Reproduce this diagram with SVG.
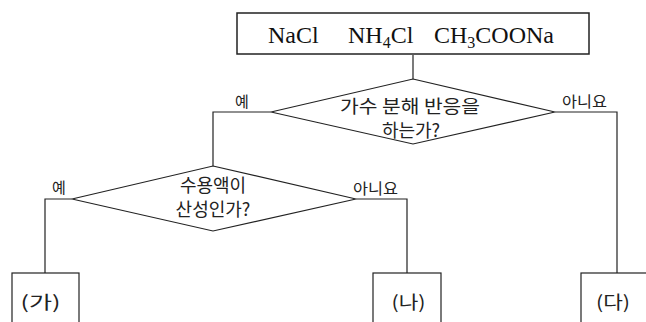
<svg xmlns="http://www.w3.org/2000/svg" width="646" height="322" viewBox="0 0 646 322">
<style>
.shape{fill:#fff;stroke:#222;stroke-width:1.2}
.conn{fill:none;stroke:#222;stroke-width:1.2}
.kr{font-family:"Noto Sans CJK KR","Noto Sans",sans-serif;fill:#222}
.q{font-size:18px;text-anchor:middle}
.lbl{font-size:15px}
.res{font-size:18px;text-anchor:middle}
.chem{font-family:"Liberation Serif","Times New Roman",serif;font-size:24px;fill:#111}
</style>
<rect width="646" height="322" fill="#fff"/>
<g id="connectors">
<line class="conn" x1="413" y1="55" x2="413" y2="79"/>
<polyline class="conn" points="271,112 213,112 213,166"/>
<polyline class="conn" points="555,112 617,112 617,273"/>
<polyline class="conn" points="72,199 45,199 45,273"/>
<polyline class="conn" points="356,199 407,199 407,273"/>
</g>
<g id="start">
<rect class="shape" x="237" y="13" width="352" height="41" style="stroke-width:1.5"/>
<text class="chem" x="268" y="43">NaCl</text>
<text class="chem" x="348" y="43">NH<tspan font-size="16" dy="5">4</tspan><tspan dy="-5">Cl</tspan></text>
<text class="chem" x="434" y="43">CH<tspan font-size="16" dy="5">3</tspan><tspan dy="-5">COONa</tspan></text>
</g>
<g id="q1">
<polygon class="shape" points="413,79 555,112 413,144 271,112"/>
<text class="kr q" x="410" y="113" textLength="140" lengthAdjust="spacingAndGlyphs">가수 분해 반응을</text>
<text class="kr q" x="411" y="137">하는가?</text>
<text class="kr lbl" x="235" y="107">예</text>
<text class="kr lbl" x="562" y="107" textLength="45" lengthAdjust="spacingAndGlyphs">아니요</text>
</g>
<g id="q2">
<polygon class="shape" points="213,166 356,199 213,231 72,199"/>
<text class="kr q" x="213" y="192">수용액이</text>
<text class="kr q" x="213" y="216">산성인가?</text>
<text class="kr lbl" x="52" y="193">예</text>
<text class="kr lbl" x="353" y="194" textLength="45" lengthAdjust="spacingAndGlyphs">아니요</text>
</g>
<g id="ga">
<rect class="shape" x="12" y="273" width="67" height="60"/>
<text class="kr res" x="40.5" y="309" textLength="40" lengthAdjust="spacingAndGlyphs">(가)</text>
</g>
<g id="na">
<rect class="shape" x="373" y="273" width="68" height="60"/>
<text class="kr res" x="408.5" y="309" textLength="34" lengthAdjust="spacingAndGlyphs">(나)</text>
</g>
<g id="da">
<rect class="shape" x="581" y="273" width="68" height="60"/>
<text class="kr res" x="613" y="309" textLength="34" lengthAdjust="spacingAndGlyphs">(다)</text>
</g>
</svg>
